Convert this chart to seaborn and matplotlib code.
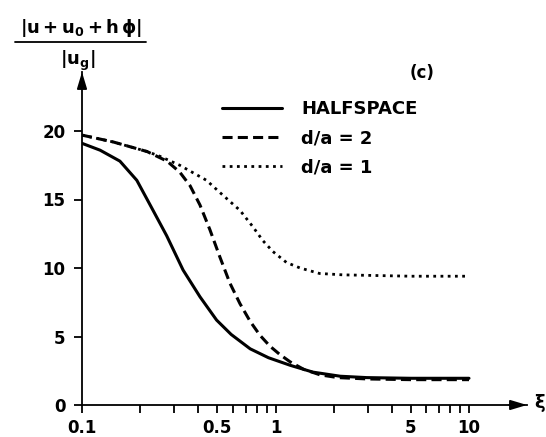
import matplotlib
matplotlib.use("Agg")
import matplotlib.pyplot as plt
import seaborn as sns
import pandas as pd
from matplotlib.ticker import FixedLocator, NullFormatter
from matplotlib.lines import Line2D

# ---- data ----
halfspace_x = [0.1, 0.124, 0.157, 0.192, 0.225, 0.274, 0.333, 0.407, 0.496, 0.59, 0.74, 0.92, 1.19, 1.56, 2.16, 2.96, 5.0, 10.0]
halfspace_y = [19.1, 18.6, 17.8, 16.4, 14.6, 12.35, 9.85, 7.9, 6.2, 5.15, 4.1, 3.45, 2.9, 2.4, 2.1, 2.0, 1.95, 1.95]

da2_x = [0.1, 0.145, 0.217, 0.275, 0.32, 0.362, 0.407, 0.458, 0.516, 0.581, 0.655, 0.74, 0.83, 0.935, 1.05, 1.19, 1.4, 1.7, 2.1, 3.0, 5.0, 10.0]
da2_y = [19.7, 19.2, 18.5, 17.8, 17.0, 16.0, 14.6, 12.8, 10.8, 8.9, 7.4, 6.1, 5.1, 4.3, 3.7, 3.15, 2.6, 2.2, 2.0, 1.9, 1.85, 1.85]

da1_x = [0.1, 0.145, 0.217, 0.253, 0.32, 0.44, 0.517, 0.656, 0.765, 0.86, 0.97, 1.14, 1.34, 1.69, 2.23, 5.0, 10.0]
da1_y = [19.7, 19.2, 18.5, 18.15, 17.5, 16.4, 15.5, 14.2, 13.0, 12.0, 11.2, 10.4, 10.0, 9.6, 9.5, 9.4, 9.4]

series_labels = ["HALFSPACE", "d/a = 2", "d/a = 1"]
x_major = [0.1, 0.5, 1, 5, 10]
x_major_labels = ["0.1", "0.5", "1", "5", "10"]
x_minor = [0.2, 0.3, 0.4, 0.6, 0.7, 0.8, 0.9, 2, 3, 4, 6, 7, 8, 9]
y_ticks = [0, 5, 10, 15, 20]
y_tick_labels = ["0", "5", "10", "15", "20"]

# ---- styling ----
sns.set_style("ticks")
plt.rcParams["font.family"] = ["DejaVu Sans"]
plt.rcParams["mathtext.fontset"] = "dejavusans"
plt.rcParams["mathtext.default"] = "bf"
plt.rcParams["text.color"] = "black"

W, H = 546, 437
fig = plt.figure(figsize=(W / 100, H / 100), dpi=100)
x0_px, x1_px, y0_px, y1_px = 82, 527, 405, 72
ax = fig.add_axes([x0_px / W, 1 - y0_px / H, (x1_px - x0_px) / W, (y0_px - y1_px) / H])

df = pd.concat([
    pd.DataFrame({"x": halfspace_x, "y": halfspace_y, "s": series_labels[0]}),
    pd.DataFrame({"x": da2_x, "y": da2_y, "s": series_labels[1]}),
    pd.DataFrame({"x": da1_x, "y": da1_y, "s": series_labels[2]}),
])

styles = {
    series_labels[0]: dict(linestyle="-", lw=2.2),
    series_labels[1]: dict(linestyle=(0, (3.3, 1.7)), lw=2.2),
    series_labels[2]: dict(linestyle=(0, (1.0, 1.6)), lw=2.0),
}
for lab in series_labels:
    sub = df[df["s"] == lab]
    sns.lineplot(data=sub, x="x", y="y", ax=ax, color="black", estimator=None,
                 sort=False, **styles[lab])

ax.set_xscale("log")
ax.set_xlim(0.1, 10 ** ((x1_px - x0_px) / 193.5 - 1))
ax.set_ylim(0, (y0_px - y1_px) / 13.7)
ax.xaxis.set_major_locator(FixedLocator(x_major))
ax.set_xticklabels(x_major_labels)
ax.xaxis.set_minor_locator(FixedLocator(x_minor))
ax.xaxis.set_minor_formatter(NullFormatter())
ax.set_yticks(y_ticks)
ax.set_yticklabels(y_tick_labels)
ax.set_xlabel("")
ax.set_ylabel("")

for side in ["top", "right"]:
    ax.spines[side].set_visible(False)
for side in ["left", "bottom"]:
    ax.spines[side].set_linewidth(1.3)
    ax.spines[side].set_color("black")
ax.tick_params(axis="both", which="both", direction="out", length=6, width=1.3,
               labelsize=12, colors="black")
ax.tick_params(axis="x", which="major", pad=4)
ax.tick_params(axis="y", which="major", pad=6)
for t in ax.get_xticklabels() + ax.get_yticklabels():
    t.set_fontweight("bold")

# axis arrows
ax.annotate("", xy=(1.0, 0), xytext=(0.96, 0), xycoords="axes fraction",
            arrowprops=dict(arrowstyle="-|>,head_length=1.0,head_width=0.3",
                            color="black", lw=1.3, shrinkA=0, shrinkB=0),
            annotation_clip=False)
ax.annotate("", xy=(0, 1.0), xytext=(0, 0.95), xycoords="axes fraction",
            arrowprops=dict(arrowstyle="-|>,head_length=1.0,head_width=0.3",
                            color="black", lw=1.3, shrinkA=0, shrinkB=0),
            annotation_clip=False)

# legend
handles = [Line2D([], [], color="black", **styles[l]) for l in series_labels]
leg = fig.legend(handles, series_labels, loc="upper left",
                 bbox_to_anchor=(222 / W, 1 - 100 / H), frameon=False,
                 borderpad=0, borderaxespad=0, handlelength=3.3,
                 handletextpad=1.1, labelspacing=0.62, labelcolor="black",
                 prop=dict(size=13, weight="bold"))

# texts
fig.text(540 / W, 1 - 403 / H, "ξ", fontsize=13, fontweight="bold", ha="center", va="center")
fig.text(422 / W, 1 - 73 / H, "(c)", fontsize=12, fontweight="bold", ha="center", va="center")
fig.text(81 / W, 1 - 28 / H, r"$|u + u_0 + h\,\phi|$", fontsize=13, ha="center", va="center")
fig.text(78 / W, 1 - 61 / H, r"$|u_g|$", fontsize=13, ha="center", va="center")
fig.add_artist(Line2D([15 / W, 146 / W], [1 - 42 / H, 1 - 42 / H], color="black", lw=1.3))

fig.savefig("out.png", dpi=100)
